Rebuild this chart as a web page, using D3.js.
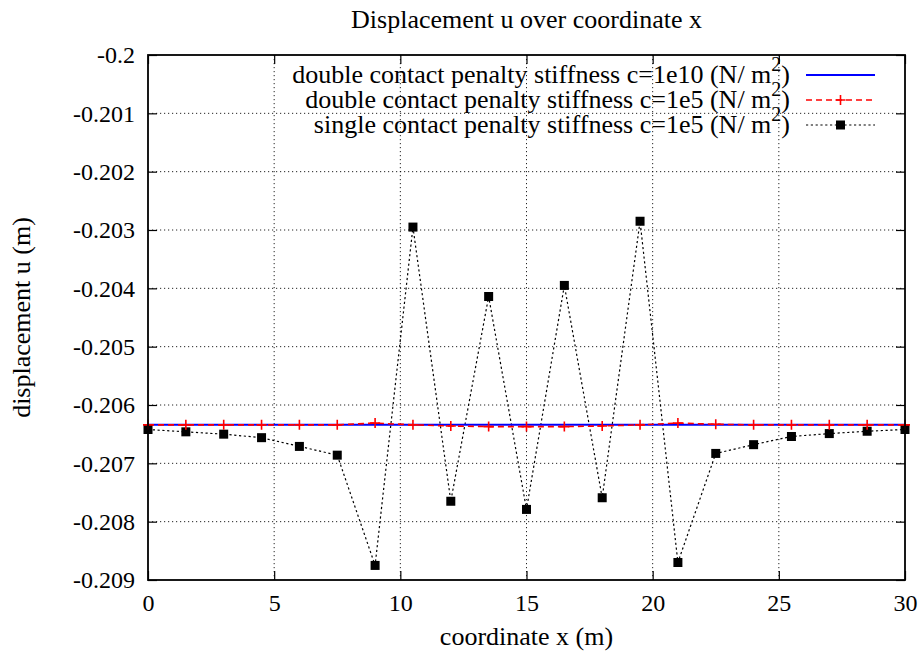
<!DOCTYPE html>
<html><head><meta charset="utf-8">
<script src="https://cdn.jsdelivr.net/npm/d3@7"></script>
<style>body{margin:0;background:#fff}svg{display:block}text{font-family:"Liberation Serif","Times New Roman",serif;fill:#000}</style>
</head><body><svg id="c" width="921" height="655"></svg>
<script>
const xValues = [0,1.5,3,4.5,6,7.5,9,10.5,12,13.5,15,16.5,18,19.5,21,22.5,24,25.5,27,28.5,30];
const seriesNames = [
  "double contact penalty stiffness c=1e10 (N/ m",
  "double contact penalty stiffness c=1e5 (N/ m",
  "single contact penalty stiffness c=1e5 (N/ m"
];
const blueValues = [-0.20634,-0.20634,-0.20634,-0.20634,-0.20634,-0.20634,-0.20634,-0.20634,-0.20634,-0.20634,-0.20634,-0.20634,-0.20634,-0.20634,-0.20634,-0.20634,-0.20634,-0.20634,-0.20634,-0.20634,-0.20634];
const redValues = [-0.20634,-0.20634,-0.20634,-0.20634,-0.20634,-0.20634,-0.20631,-0.20634,-0.20636,-0.20637,-0.20637,-0.20637,-0.20636,-0.20634,-0.20631,-0.20633,-0.20634,-0.20634,-0.20634,-0.20634,-0.20634];
const blackValues = [-0.20642,-0.20646,-0.20650,-0.20656,-0.20671,-0.20686,-0.20875,-0.20295,-0.20765,-0.20414,-0.20779,-0.20395,-0.20759,-0.20285,-0.20870,-0.20683,-0.20668,-0.20654,-0.20649,-0.20645,-0.20642];
const xTicks = [0,5,10,15,20,25,30];
const yTicks = [-0.2,-0.201,-0.202,-0.203,-0.204,-0.205,-0.206,-0.207,-0.208,-0.209];
const yTickLabels = ["-0.2","-0.201","-0.202","-0.203","-0.204","-0.205","-0.206","-0.207","-0.208","-0.209"];

const svg = d3.select("#c");
const L = 148, R = 905, T = 55, B = 580;
const x = d3.scaleLinear().domain([0,30]).range([L,R]);
const y = d3.scaleLinear().domain([-0.209,-0.2]).range([B,T]);
const fs = 24, fl = 26;

const g = svg.append("g");
g.selectAll(".gx").data(xTicks.slice(1,-1)).join("line")
  .attr("x1",d=>x(d)).attr("x2",d=>x(d)).attr("y1",T).attr("y2",B)
  .attr("stroke","#000").attr("stroke-width",1).attr("stroke-dasharray","1.2,2.8").attr("opacity",0.85);
g.selectAll(".gy").data(yTicks.slice(1,-1)).join("line")
  .attr("y1",d=>y(d)).attr("y2",d=>y(d)).attr("x1",L).attr("x2",R)
  .attr("stroke","#000").attr("stroke-width",1).attr("stroke-dasharray","1.2,2.8").attr("opacity",0.85);

const tk = 9;
const axB = d3.axisBottom(x).tickValues(xTicks).tickSize(-tk).tickFormat(d3.format("d")).tickPadding(14);
const axT = d3.axisTop(x).tickValues(xTicks).tickSize(-tk).tickFormat("");
const axL = d3.axisLeft(y).tickValues(yTicks).tickSize(-tk).tickFormat((d,i)=>yTickLabels[i]).tickPadding(13);
const axR = d3.axisRight(y).tickValues(yTicks).tickSize(-tk).tickFormat("");
function style(sel){ sel.select(".domain").remove(); sel.selectAll("line").attr("stroke","#000").attr("stroke-width",1.2);
  sel.selectAll("text").style("font-family",'"Liberation Serif",serif').style("font-size",fs+"px").attr("fill","#000"); }
svg.append("g").attr("transform",`translate(0,${B})`).call(axB).call(style);
svg.append("g").attr("transform",`translate(0,${T})`).call(axT).call(style);
svg.append("g").attr("transform",`translate(${L},0)`).call(axL).call(style);
svg.append("g").attr("transform",`translate(${R},0)`).call(axR).call(style);

const line = d3.line().x(d=>x(d[0])).y(d=>y(d[1]));
const blue = xValues.map((v,i)=>[v,blueValues[i]]);
const red = xValues.map((v,i)=>[v,redValues[i]]);
const blk = xValues.map((v,i)=>[v,blackValues[i]]);
const pg = svg.append("g");

pg.append("path").datum(blk).attr("d",line).attr("fill","none").attr("stroke","#000").attr("stroke-width",1.2).attr("stroke-dasharray","2.2,2.6");
pg.append("path").datum(blue).attr("d",line).attr("fill","none").attr("stroke","#0000ff").attr("stroke-width",2);
pg.append("path").datum(red).attr("d",line).attr("fill","none").attr("stroke","#ff0000").attr("stroke-width",1.6).attr("stroke-dasharray","6,4");
const ms = 9;
pg.selectAll(".sq").data(blk).join("rect").attr("x",d=>x(d[0])-ms/2).attr("y",d=>y(d[1])-ms/2).attr("width",ms).attr("height",ms).attr("fill","#000");
const cr = 5;
pg.selectAll(".cr").data(red).join("path")
  .attr("d",d=>`M${x(d[0])-cr},${y(d[1])}H${x(d[0])+cr}M${x(d[0])},${y(d[1])-cr}V${y(d[1])+cr}`)
  .attr("stroke","#ff0000").attr("stroke-width",1.6).attr("fill","none");

svg.append("rect").attr("x",L).attr("y",T).attr("width",R-L).attr("height",B-T).attr("fill","none").attr("stroke","#000").attr("stroke-width",1.8);

const lgY = [75,100,125];
const tx = 790, s1 = 806, s2 = 875;
seriesNames.forEach((name,i)=>{
  const t = svg.append("text").attr("x",tx).attr("y",lgY[i]+8).attr("text-anchor","end").style("font-size",fl+"px");
  t.append("tspan").text(name);
  t.append("tspan").attr("dy",-12).style("font-size","20px").text("2");
  t.append("tspan").attr("dy",12).text(")");
});
svg.append("line").attr("x1",s1).attr("x2",s2).attr("y1",lgY[0]).attr("y2",lgY[0]).attr("stroke","#0000ff").attr("stroke-width",2);
svg.append("line").attr("x1",s1).attr("x2",s2).attr("y1",lgY[1]).attr("y2",lgY[1]).attr("stroke","#ff0000").attr("stroke-width",1.6).attr("stroke-dasharray","6,4");
svg.append("path").attr("d",`M${(s1+s2)/2-cr},${lgY[1]}H${(s1+s2)/2+cr}M${(s1+s2)/2},${lgY[1]-cr}V${lgY[1]+cr}`).attr("stroke","#ff0000").attr("stroke-width",1.6);
svg.append("line").attr("x1",s1).attr("x2",s2).attr("y1",lgY[2]).attr("y2",lgY[2]).attr("stroke","#000").attr("stroke-width",1.2).attr("stroke-dasharray","2.2,2.6");
svg.append("rect").attr("x",(s1+s2)/2-ms/2).attr("y",lgY[2]-ms/2).attr("width",ms).attr("height",ms).attr("fill","#000");

svg.append("text").attr("x",(L+R)/2).attr("y",28).attr("text-anchor","middle").style("font-size",fl+"px").text("Displacement u over coordinate x");
svg.append("text").attr("x",(L+R)/2).attr("y",645).attr("text-anchor","middle").style("font-size",fl+"px").text("coordinate x (m)");
svg.append("text").attr("transform",`translate(30,${(T+B)/2}) rotate(-90)`).attr("text-anchor","middle").style("font-size",fl+"px").text("displacement u (m)");
</script></body></html>
